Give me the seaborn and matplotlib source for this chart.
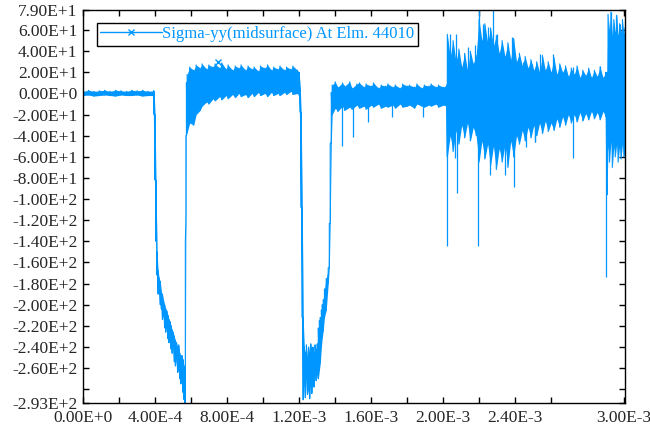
import numpy as np
import pandas as pd
import seaborn as sns
import matplotlib.pyplot as plt
from matplotlib.lines import Line2D

BLUE = '#0096FF'
LABEL = 'Sigma-yy(midsurface) At Elm. 44010'

# stress trace envelope, one segment at a time
# (time in microseconds, stress low / high at that time)
flat_us = [0, 30, 60, 90, 120, 150, 180, 210, 240, 270, 300, 330, 360, 392]
flat_lo = [-2, -1.5, -2.5, -2, -1.5, -2, -2.5, -1.5, -2, -2, -1.5, -2.5, -2, -2]
flat_hi = [2, 3, 2, 2.5, 3, 2, 3, 2.5, 2, 3, 2.5, 3, 2, 2.5]

drop1_us = [395, 400, 405, 411, 417, 423, 429, 435, 441, 447, 453, 459, 465,
            471, 477, 483, 489, 495, 501, 507, 513, 519, 525, 531, 537, 543,
            549, 555, 561, 565, 568, 571, 574]
drop1_lo = [-20, -82, -140, -172, -190, -186, -200, -204, -214, -210, -222,
            -226, -220, -232, -236, -230, -242, -246, -240, -254, -258, -252,
            -264, -262, -270, -275, -268, -283, -290, -293, -293, -120, -40]
drop1_hi = [2, -20, -82, -150, -168, -175, -178, -188, -190, -196, -200,
            -204, -206, -210, -214, -216, -220, -224, -226, -230, -234, -236,
            -240, -238, -246, -250, -248, -252, -258, -262, -140, -40, 10]

plat2_us = [578, 592, 614, 628, 650, 661, 686, 698, 722, 733, 758, 770, 794,
            805, 830, 845, 866, 877, 902, 916, 938, 950, 974, 985, 1010, 1024,
            1046, 1058, 1082, 1093, 1118, 1130, 1154, 1165, 1190]
plat2_lo = [-37, -28, -30, -20, -16, -12, -8, -10, -5, -7, -3, -6, -2, -5,
            -1, -4, 0, -3, -1, -4, 0, -3, 1, -2, 0, -3, 1, -2, 0, -2, 1, -1,
            2, -1, 0]
plat2_hi = [18, 25, 22, 27, 24, 28, 23, 27, 25, 28, 24, 29, 23, 27, 22, 26,
            24, 27, 22, 26, 23, 25, 21, 26, 24, 27, 22, 25, 23, 26, 22, 25,
            23, 26, 22]

drop2_us = [1200, 1206, 1211, 1217, 1222, 1228, 1234, 1240, 1246, 1252, 1258,
            1264, 1270, 1276, 1282, 1288, 1294, 1300, 1306, 1312, 1317, 1323,
            1328, 1333, 1340, 1350, 1361, 1367, 1372, 1378, 1383]
drop2_lo = [-2, -18, -108, -212, -290, -275, -288, -270, -285, -280, -289,
            -272, -284, -270, -278, -262, -272, -266, -270, -262, -255, -240,
            -231, -225, -212, -205, -180, -165, -123, -47, -20]
drop2_hi = [20, 5, -18, -108, -212, -240, -245, -238, -250, -240, -246,
            -237, -244, -240, -246, -238, -242, -237, -222, -215, -212, -205,
            -200, -195, -185, -175, -165, -123, -47, 1, 8]

plat3_us = [1400, 1414, 1440, 1452, 1480, 1493, 1520, 1534, 1560, 1571, 1600,
            1612, 1640, 1655, 1680, 1692, 1720, 1733, 1760, 1774, 1800, 1811,
            1840, 1853, 1880, 1894, 1920, 1932, 1960, 1973, 2000, 2018]
plat3_lo = [-14, -17, -12, -16, -13, -15, -11, -14, -12, -15, -11, -13, -10,
            -14, -12, -13, -11, -14, -10, -13, -12, -11, -14, -10, -12, -13,
            -11, -12, -10, -13, -11, -12]
plat3_hi = [11, 6, 10, 7, 11, 5, 9, 10, 6, 9, 7, 10, 5, 8, 7, 9, 6, 8, 5, 9,
            7, 8, 6, 9, 5, 8, 7, 9, 6, 8, 6, 8]

burst_us = [2022, 2038, 2054, 2070, 2086, 2102, 2118, 2134, 2150, 2166, 2182,
            2198, 2214, 2230, 2246, 2262, 2278, 2294, 2310, 2326, 2342, 2358,
            2374, 2390, 2406, 2422, 2438, 2454, 2470, 2486, 2502, 2518, 2534,
            2550, 2566, 2582, 2598, 2614, 2630, 2646, 2662, 2678, 2694, 2710,
            2726, 2742, 2758, 2774, 2790, 2806, 2822, 2838, 2854, 2870, 2886,
            2902]
burst_lo = [-60, -40, -55, -35, -48, -30, -42, -28, -45, -32, -40, -65, -45,
            -62, -48, -68, -50, -72, -52, -65, -48, -70, -45, -60, -40, -48,
            -35, -45, -32, -42, -30, -40, -28, -38, -26, -36, -28, -35, -24,
            -32, -22, -30, -20, -28, -20, -27, -18, -26, -19, -25, -17, -24,
            -18, -25, -17, -22]
burst_hi = [56, 35, 50, 30, 42, 25, 38, 22, 40, 28, 36, 70, 50, 66, 48, 62,
            45, 55, 38, 50, 35, 48, 32, 52, 30, 38, 26, 35, 24, 32, 22, 30,
            20, 36, 22, 30, 20, 34, 18, 28, 20, 26, 16, 24, 18, 26, 15, 22,
            17, 24, 15, 22, 16, 25, 15, 20]

end_us = [2908, 2914, 2922, 2930, 2938, 2946, 2954, 2962, 2970, 2978, 2986,
          2994, 3002, 3008]
end_lo = [-96, -50, -65, -45, -70, -50, -60, -48, -65, -50, -62, -48, -60, -55]
end_hi = [20, 75, 60, 77, 55, 70, 58, 74, 55, 66, 58, 70, 56, 62]

# single spikes sticking out of the band
spike_us = [1439, 1500, 1583, 1717, 1889,
            2022, 2039, 2067, 2072, 2078, 2139, 2178, 2192, 2197, 2222, 2250,
            2261, 2278, 2300, 2344, 2383, 2394, 2444, 2456, 2494, 2506,
            2511, 2539, 2606, 2722, 2722, 2872, 2905, 2928, 2956, 2983]
spike_tip = [-50, -41, -27, -22, -22,
             -144, 56, -61, 56, -94, 44, 46, -144, 79, 66, 63,
             -77, 79, 56, -77, 53, -89, 30, -51, 28, -46,
             -46, 37, 37, 25, -61, 26, -174, 77, 74, 66]

marker_us, marker_val = 750, 29.5

x_major = [0, 4e-4, 8e-4, 1.2e-3, 1.6e-3, 2.0e-3, 2.4e-3, 3.0e-3]
x_labels = ['0.00E+0', '4.00E-4', '8.00E-4', '1.20E-3', '1.60E-3',
            '2.00E-3', '2.40E-3', '3.00E-3']
y_major = [79, 60, 40, 20, 0, -20, -40, -60, -80, -100, -120, -140, -160,
           -180, -200, -220, -240, -260, -280, -293]
y_labels = ['7.90E+1', '6.00E+1', '4.00E+1', '2.00E+1', '0.00E+0', '-2.00E+1',
            '-4.00E+1', '-6.00E+1', '-8.00E+1', '-1.00E+2', '-1.20E+2',
            '-1.40E+2', '-1.60E+2', '-1.80E+2', '-2.00E+2', '-2.20E+2',
            '-2.40E+2', '-2.60E+2', '', '-2.93E+2']

t = np.array(flat_us + drop1_us + plat2_us + drop2_us + plat3_us
             + burst_us + end_us) * 1e-6
lo = np.array(flat_lo + drop1_lo + plat2_lo + drop2_lo + plat3_lo
              + burst_lo + end_lo)
hi = np.array(flat_hi + drop1_hi + plat2_hi + drop2_hi + plat3_hi
              + burst_hi + end_hi)
trace = pd.DataFrame({
    'Time': np.repeat(t, 2),
    'Stress': np.column_stack([lo, hi]).ravel(),
})

sns.set_style('ticks')
plt.rcParams['font.family'] = ['Liberation Serif', 'DejaVu Serif']

fig, ax = plt.subplots(figsize=(6.5, 4.25), dpi=100)
fig.subplots_adjust(left=0.1277, right=0.9615, bottom=0.0518, top=0.9765)

ax.fill_between(t, lo, hi, color=BLUE, lw=0)
sns.lineplot(data=trace, x='Time', y='Stress', estimator=None, sort=False,
             color=BLUE, lw=0.8, ax=ax)
ax.vlines(np.array(spike_us) * 1e-6, 0, spike_tip, color=BLUE, lw=0.9)
ax.plot(marker_us * 1e-6, marker_val, marker='x', color=BLUE, ms=4, mew=1)

ax.set_xlim(0, 3.008e-3)
ax.set_ylim(-293, 79)
ax.set_xticks(x_major, labels=x_labels)
ax.set_xticks(np.arange(2e-4, 3.0e-3, 4e-4), minor=True)
ax.set_yticks(y_major, labels=y_labels)
ax.tick_params(which='both', direction='in', top=True, right=True,
               length=4, width=1, labelsize=12.5, color='black')
ax.tick_params(axis='x', pad=5)
ax.tick_params(axis='y', pad=4)
ax.set_xlabel('')
ax.set_ylabel('')
for s in ax.spines.values():
    s.set_linewidth(1)
    s.set_color('black')

h = Line2D([], [], color=BLUE, lw=1, marker='x', ms=4, mew=1)
leg = ax.legend(handles=[h], labels=[LABEL], loc='upper left',
                bbox_to_anchor=(0.026, 0.967), fontsize=12, labelcolor=BLUE,
                frameon=True, fancybox=False, edgecolor='black', framealpha=1,
                handlelength=3.7, handletextpad=0.0, borderpad=0.2,
                borderaxespad=0)
leg.get_frame().set_linewidth(1)

plt.savefig('out.png', dpi=100)
